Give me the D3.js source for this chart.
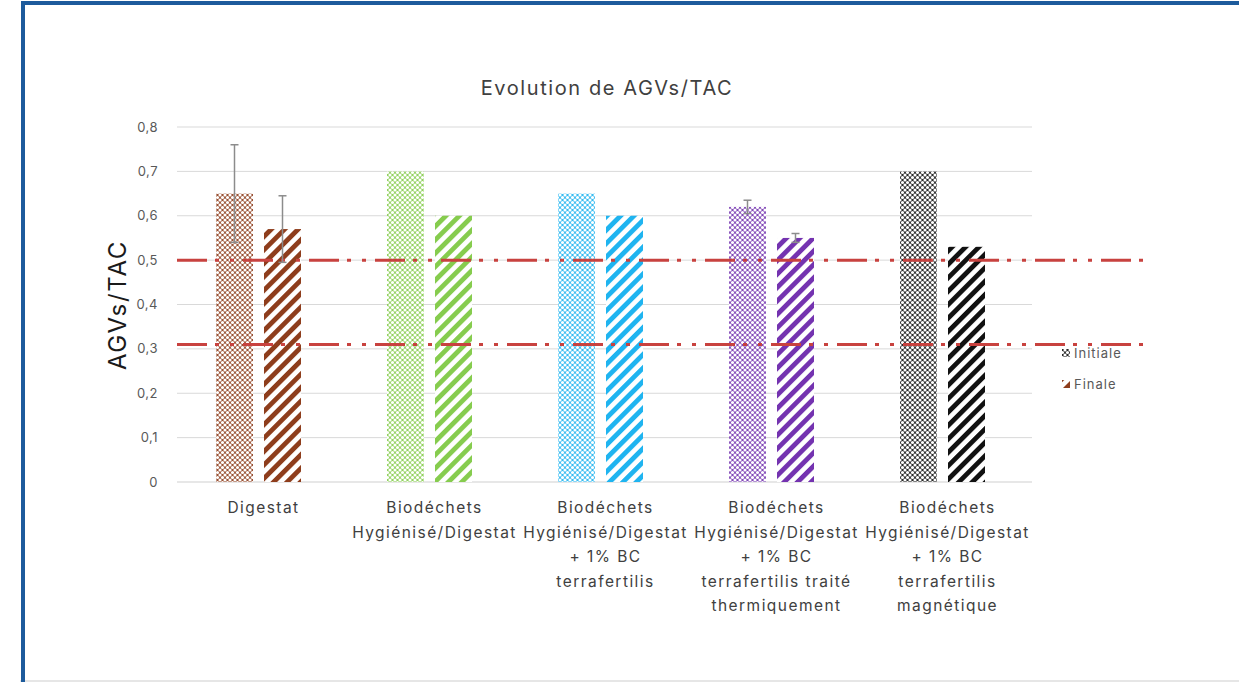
<!DOCTYPE html>
<html><head><meta charset="utf-8">
<script src="https://cdn.jsdelivr.net/npm/d3@7"></script>
<style>
html,body{margin:0;padding:0;background:#fff;}
svg{display:block;font-family:Inter,"Open Sans","Liberation Sans",sans-serif;}
</style></head>
<body><svg id="c" width="1239" height="682"></svg>
<script>
const categories = [
  ["Digestat"],
  ["Biodéchets", "Hygiénisé/Digestat"],
  ["Biodéchets", "Hygiénisé/Digestat", "+ 1% BC", "terrafertilis"],
  ["Biodéchets", "Hygiénisé/Digestat", "+ 1% BC", "terrafertilis traité", "thermiquement"],
  ["Biodéchets", "Hygiénisé/Digestat", "+ 1% BC", "terrafertilis", "magnétique"]
];
const initiale = [0.65, 0.70, 0.65, 0.62, 0.70];
const finale = [0.57, 0.60, 0.60, 0.55, 0.53];
const errInitiale = [0.11, null, null, 0.015, null];
const errFinale = [0.075, null, null, 0.01, null];
const colors = ["#8e3d1c", "#86cc4e", "#1fb4f0", "#7433b0", "#111111"];
const yTicks = [0, 0.1, 0.2, 0.3, 0.4, 0.5, 0.6, 0.7, 0.8];
const refLines = [0.5, 0.31];
const seriesNames = ["Initiale", "Finale"];
const title = "Evolution de AGVs/TAC";
const yTitle = "AGVs/TAC";

const svg = d3.select("#c");
const fmt = v => d3.format(".1f")(v).replace(".", ",").replace(/^0,0$/, "0");

// frame
svg.append("rect").attr("x", 0).attr("y", 0).attr("width", 1239).attr("height", 682).attr("fill", "#fff");
svg.append("line").attr("x1", 20).attr("x2", 1239).attr("y1", 681).attr("y2", 681).attr("stroke", "#e6e6e6").attr("stroke-width", 2);
svg.append("rect").attr("x", 21).attr("y", 1).attr("width", 4).attr("height", 681).attr("fill", "#1d5b9c");
svg.append("rect").attr("x", 21).attr("y", 1).attr("width", 1218).attr("height", 4).attr("fill", "#1d5b9c");

// patterns
const defs = svg.append("defs");
colors.forEach((c, i) => {
  const p1 = defs.append("pattern").attr("id", "pi" + i).attr("patternUnits", "userSpaceOnUse")
    .attr("width", 5).attr("height", 5);
  p1.append("rect").attr("width", 5).attr("height", 5).attr("fill", c).attr("fill-opacity", 0.9);
  [[0,0],[5,0],[0,5],[5,5],[2.5,2.5]].forEach(([x,y]) =>
    p1.append("circle").attr("cx", x).attr("cy", y).attr("r", 1.55).attr("fill", "#fff"));
  const p2 = defs.append("pattern").attr("id", "pf" + i).attr("patternUnits", "userSpaceOnUse")
    .attr("width", 9.5).attr("height", 9.5).attr("patternTransform", "rotate(45)");
  p2.append("rect").attr("width", 9.5).attr("height", 9.5).attr("fill", "#fff");
  p2.append("rect").attr("x", 0).attr("width", 4.8).attr("height", 9.5).attr("fill", c);
});

const x0 = 177, x1 = 1032;
const y = d3.scaleLinear().domain([0, 0.8]).range([482, 127]);
const xb = d3.scaleBand().domain(d3.range(categories.length)).range([x0, x1]).paddingInner(0).paddingOuter(0);
const barW = 37, gap = 11;

// gridlines
svg.append("g").selectAll("line").data(yTicks.filter(t => t > 0)).join("line")
  .attr("x1", x0).attr("x2", x1).attr("y1", d => y(d)).attr("y2", d => y(d))
  .attr("stroke", "#d9d9d9").attr("stroke-width", 1);
svg.append("line").attr("x1", x0).attr("x2", x1).attr("y1", y(0)).attr("y2", y(0))
  .attr("stroke", "#d0d0d0").attr("stroke-width", 1.2);

// y axis labels
svg.append("g").selectAll("text").data(yTicks).join("text")
  .attr("x", 158).attr("y", d => y(d)).attr("dy", "0.35em").attr("text-anchor", "end")
  .attr("font-size", 13).attr("letter-spacing", 0.5).attr("fill", "#595959").text(d => fmt(d));

// bars
const g = svg.append("g");
const cx = i => xb(i) + xb.bandwidth() / 2 - 4;
g.selectAll(".bi").data(initiale).join("rect")
  .attr("x", (d, i) => cx(i) - gap / 2 - barW).attr("width", barW)
  .attr("y", d => y(d)).attr("height", d => y(0) - y(d))
  .attr("fill", (d, i) => `url(#pi${i})`);
g.selectAll(".bf").data(finale).join("rect")
  .attr("x", (d, i) => cx(i) + gap / 2).attr("width", barW)
  .attr("y", d => y(d)).attr("height", d => y(0) - y(d))
  .attr("fill", (d, i) => `url(#pf${i})`);

// reference lines
svg.append("g").selectAll("line").data(refLines).join("line")
  .attr("x1", x0).attr("x2", 1143).attr("y1", d => y(d)).attr("y2", d => y(d))
  .attr("stroke", "#c8423f").attr("stroke-width", 3)
  .attr("stroke-dasharray", "30,8,4,11,4,9");

// error bars
function errBars(vals, errs, off) {
  const data = vals.map((v, i) => ({v, e: errs[i], i})).filter(d => d.e != null);
  const eg = svg.append("g").attr("stroke", "#8c8c8c").attr("stroke-width", 1.5);
  data.forEach(d => {
    const xc = off(d.i);
    eg.append("line").attr("x1", xc).attr("x2", xc).attr("y1", y(d.v + d.e)).attr("y2", y(d.v - d.e));
    [d.v + d.e, d.v - d.e].forEach(t =>
      eg.append("line").attr("x1", xc - 4).attr("x2", xc + 4).attr("y1", y(t)).attr("y2", y(t)));
  });
}
errBars(initiale, errInitiale, i => cx(i) - gap / 2 - barW / 2);
errBars(finale, errFinale, i => cx(i) + gap / 2 + barW / 2);

// x labels
const xl = svg.append("g");
categories.forEach((lines, i) => {
  const t = xl.append("text").attr("text-anchor", "middle").attr("font-size", 15.5)
    .attr("letter-spacing", 1.45).attr("fill", "#404040");
  lines.forEach((s, k) => t.append("tspan").attr("x", xb(i) + xb.bandwidth() / 2 + 1).attr("y", 513 + k * 24.5).text(s));
});

// title
svg.append("text").attr("x", 607).attr("y", 95).attr("text-anchor", "middle")
  .attr("font-size", 20).attr("letter-spacing", 1.6).attr("fill", "#404040").text(title);
svg.append("text").attr("transform", "translate(126,305) rotate(-90)").attr("text-anchor", "middle")
  .attr("font-size", 24).attr("letter-spacing", 1.7).attr("fill", "#1a1a1a").text(yTitle);

// legend
const lg = svg.append("g");
seriesNames.forEach((n, k) => {
  const yy = 353 + k * 31;
  lg.append("rect").attr("x", 1062).attr("y", yy - 4).attr("width", 8).attr("height", 8)
    .attr("fill", k === 0 ? "url(#pi4)" : "url(#pf0)");
  lg.append("text").attr("x", 1074).attr("y", yy).attr("dy", "0.35em").attr("font-size", 13)
    .attr("letter-spacing", 1).attr("fill", "#595959").text(n);
});
</script></body></html>
